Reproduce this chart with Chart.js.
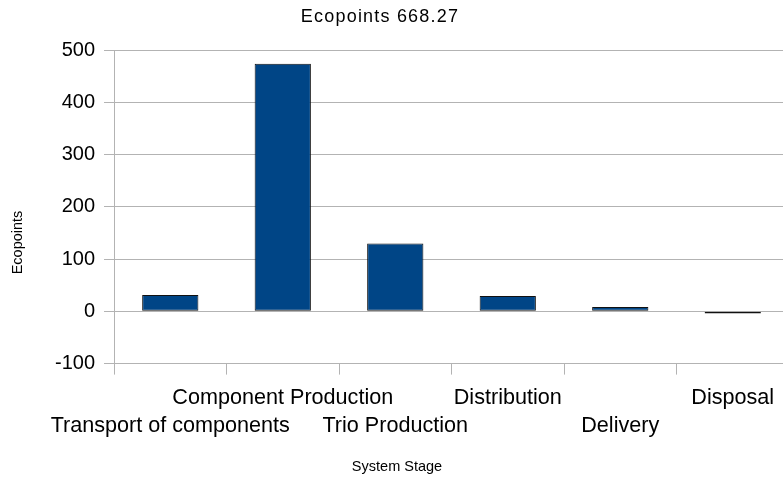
<!DOCTYPE html>
<html>
<head>
<meta charset="utf-8">
<script src="https://cdn.jsdelivr.net/npm/chart.js@4"></script>
<style>
  html, body { margin: 0; padding: 0; background: #fff; overflow: hidden; }
  #wrap { position: relative; width: 789px; height: 479px; }
</style>
</head>
<body>
<div id="wrap"><canvas id="chart"></canvas></div>
<script>
// Ecopoints per system stage
const stages = ['Transport of components', 'Component Production', 'Trio Production', 'Distribution', 'Delivery', 'Disposal'];
const ecopoints = [31.5, 473.8, 129.8, 29.2, 8.2, -4.2];
const chartTitle = 'Ecopoints 668.27';
const xTitle = 'System Stage';
const yTitle = 'Ecopoints';
const yMin = -100, yMax = 500, yMajor = 100, yMinor = 50;

const GRID = '#b3b3b3';
const FONT = 'Liberation Sans, Arial, sans-serif';

// Main title and both axis titles, centred on the whole diagram
const titlesPlugin = {
  id: 'diagramTitles',
  afterDraw(chart) {
    const ctx = chart.ctx;
    const cx = 380;
    ctx.save();
    ctx.fillStyle = '#000';
    ctx.textAlign = 'center';
    ctx.textBaseline = 'middle';

    ctx.font = '18px ' + FONT;
    if ('letterSpacing' in ctx) ctx.letterSpacing = '1.2px';
    ctx.fillText(chartTitle, cx, 17);
    if ('letterSpacing' in ctx) ctx.letterSpacing = '0px';

    ctx.font = '14.5px ' + FONT;
    ctx.fillText(xTitle, 397, 466.5);

    ctx.translate(17.5, 242.5);
    ctx.rotate(-Math.PI / 2);
    ctx.fillText(yTitle, 0, 0);
    ctx.restore();
  }
};

new Chart(document.getElementById('chart'), {
  type: 'bar',
  data: {
    labels: stages,
    datasets: [{
      data: ecopoints,
      backgroundColor: '#004586',
      borderColor: '#111',
      borderWidth: 1,
      borderSkipped: false,
      barPercentage: 0.5,
      categoryPercentage: 1.0
    }]
  },
  plugins: [titlesPlugin],
  options: {
    responsive: true,
    maintainAspectRatio: false,
    animation: false,
    layout: { padding: { left: 46, top: 50, right: 0, bottom: 29.8 } },
    plugins: {
      legend: { display: false },
      tooltip: { enabled: false },
      title: { display: false }
    },
    scales: {
      x: {
        offset: true,
        grid: {
          offset: true,
          drawOnChartArea: false,
          drawTicks: true,
          tickLength: 11,
          color: GRID,
          tickColor: GRID
        },
        border: { color: GRID },
        ticks: {
          autoSkip: false,
          maxRotation: 0,
          minRotation: 0,
          padding: 9,
          color: '#000',
          font: { family: FONT, size: 21.6, lineHeight: 1.31 },
          // alternate labels between an upper and a lower row
          callback: function (value, index) {
            const lbl = this.getLabelForValue(value);
            return index % 2 === 1 ? [lbl, ''] : ['', lbl];
          }
        }
      },
      y: {
        min: yMin,
        max: yMax,
        grid: {
          color: (ctx) => (ctx.tick && ctx.tick.value % yMajor === 0) ? GRID : 'rgba(0,0,0,0)',
          tickColor: GRID,
          tickLength: 10,
          drawTicks: true
        },
        border: { color: GRID },
        ticks: {
          stepSize: yMinor,
          padding: 9,
          color: '#000',
          font: { family: FONT, size: 20, lineHeight: 1.2 },
          callback: (v) => (v % yMajor === 0 ? String(v) : '')
        }
      }
    }
  }
});
</script>
</body>
</html>
